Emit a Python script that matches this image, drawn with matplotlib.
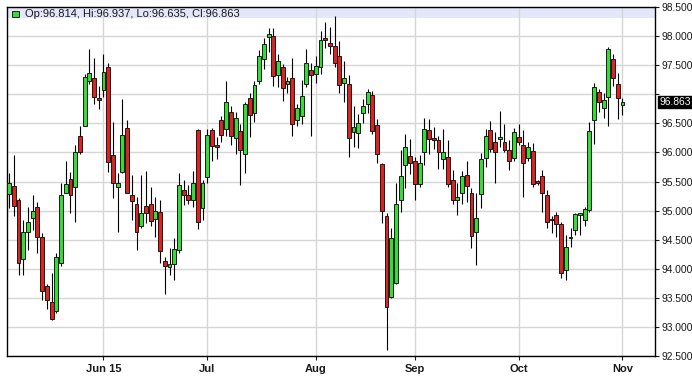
import matplotlib.pyplot as plt
from matplotlib.patches import Rectangle
import numpy as np
import pandas as pd

plt.rcParams['font.family'] = ['Liberation Sans', 'DejaVu Sans']

# daily candles, US dollar index, 4 May - 2 Nov 2015
dates = pd.bdate_range('2015-05-04', '2015-11-02')
opens = [95.28, 95.43, 95.18, 94.17, 94.63, 94.87, 95.07, 94.55, 93.70, 93.42,
         93.28, 94.10, 95.31, 95.55, 95.40, 96.29, 96.46, 97.22, 97.28, 96.94,
         97.07, 97.47, 95.96, 95.40, 95.67, 96.42, 95.27, 95.11, 94.73, 95.08,
         95.12, 94.86, 94.98, 94.14, 94.03, 94.08, 94.32, 95.35, 95.26, 95.19,
         96.38, 95.05, 95.57, 96.39, 96.12, 96.56, 96.41, 96.70, 96.25, 96.37,
         95.98, 96.93, 96.67, 97.23, 97.60, 97.98, 98.00, 97.33, 97.47, 97.17,
         97.28, 96.56, 96.62, 97.17, 97.41, 97.35, 97.47, 97.97, 97.88, 97.83,
         97.66, 97.20, 97.17, 96.35, 96.34, 96.68, 96.83, 96.99, 96.47, 95.80,
         94.90, 93.52, 93.76, 95.18, 95.78, 95.94, 95.86, 95.45, 96.00, 96.38,
         96.25, 96.21, 95.88, 95.92, 95.52, 95.18, 95.31, 95.62, 95.31, 94.63,
         95.28, 95.91, 96.38, 96.18, 96.23, 96.18, 96.04, 95.91, 96.27, 96.12,
         95.90, 96.02, 95.49, 95.59, 95.27, 94.85, 94.92, 94.77, 93.97, 94.53,
         94.67, 94.93, 94.84, 95.01, 96.55, 97.04, 96.76, 96.96, 97.60, 97.17,
         96.814]
highs = [95.64, 95.95, 95.21, 94.84, 95.07, 95.27, 95.15, 94.61, 93.73, 93.93,
         94.27, 95.47, 95.85, 95.67, 96.12, 96.46, 97.35, 97.77, 97.63, 97.15,
         97.69, 97.53, 96.52, 95.64, 96.92, 96.55, 95.61, 95.24, 95.61, 95.68,
         95.41, 95.24, 95.18, 94.21, 94.36, 94.53, 95.64, 95.52, 95.44, 95.68,
         96.40, 95.52, 96.41, 96.42, 96.26, 96.63, 97.23, 96.80, 96.69, 96.49,
         96.86, 97.03, 97.23, 97.76, 97.97, 98.14, 98.14, 97.69, 97.52, 97.29,
         97.63, 96.83, 97.24, 97.77, 97.54, 97.66, 98.09, 98.24, 98.15, 98.34,
         97.91, 97.58, 97.33, 96.80, 96.66, 96.92, 97.09, 97.06, 96.58, 95.81,
         94.95, 94.70, 95.47, 96.04, 96.32, 96.23, 95.92, 95.96, 96.60, 96.58,
         96.43, 96.29, 96.41, 96.21, 95.69, 95.47, 95.68, 95.85, 95.38, 95.30,
         95.99, 96.41, 96.54, 96.35, 96.71, 96.49, 96.21, 96.42, 96.49, 96.38,
         96.18, 96.17, 95.53, 95.69, 95.35, 94.90, 94.98, 94.81, 94.58, 94.70,
         94.95, 94.96, 95.07, 96.52, 97.20, 97.09, 97.03, 97.81, 97.69, 97.36,
         96.937]
lows = [95.04, 94.90, 93.90, 93.90, 94.33, 94.67, 94.27, 93.47, 93.30, 93.12,
        93.24, 94.04, 95.30, 94.95, 94.81, 95.98, 96.45, 97.17, 96.84, 96.75,
        96.95, 95.67, 95.21, 94.64, 95.64, 95.30, 94.84, 94.33, 94.70, 94.78,
        94.73, 94.55, 94.10, 93.56, 93.90, 93.81, 94.27, 95.10, 95.12, 95.07,
        94.68, 94.84, 95.47, 95.86, 95.89, 96.18, 96.29, 96.12, 95.98, 95.44,
        95.64, 96.26, 96.52, 97.17, 97.43, 97.72, 97.15, 97.12, 96.89, 97.03,
        96.29, 96.46, 96.49, 97.12, 96.29, 97.20, 97.35, 97.80, 97.69, 97.46,
        97.03, 96.86, 95.92, 96.10, 96.08, 96.50, 96.67, 96.32, 95.81, 94.79,
        92.60, 93.50, 93.73, 94.98, 95.38, 95.63, 95.18, 95.41, 95.78, 95.98,
        96.06, 95.72, 95.72, 95.41, 95.12, 94.92, 95.12, 95.15, 94.36, 94.06,
        95.04, 95.75, 96.01, 95.47, 96.10, 96.01, 95.69, 95.86, 96.12, 95.23,
        95.86, 95.41, 95.44, 94.98, 94.70, 94.61, 94.55, 93.84, 93.81, 94.37,
        94.58, 94.58, 94.73, 94.98, 96.15, 96.69, 96.59, 96.46, 97.15, 96.58,
        96.635]
closes = [95.48, 95.08, 94.10, 94.64, 94.81, 95.00, 94.54, 93.62, 93.47, 93.14,
          94.21, 95.26, 95.45, 95.26, 96.01, 96.01, 97.29, 97.36, 96.95, 96.90,
          97.38, 95.84, 95.47, 95.47, 96.30, 95.30, 95.17, 94.64, 94.96, 94.96,
          94.82, 95.00, 94.31, 94.04, 94.08, 94.34, 95.44, 95.26, 95.19, 95.47,
          94.80, 95.48, 96.30, 96.11, 96.10, 96.30, 96.87, 96.29, 96.60, 96.04,
          96.84, 96.65, 97.16, 97.66, 97.86, 98.03, 97.32, 97.58, 97.11, 97.23,
          96.49, 96.76, 96.97, 97.54, 97.33, 97.48, 97.93, 97.94, 97.83, 97.54,
          97.16, 97.28, 96.25, 96.43, 96.51, 96.80, 97.04, 96.36, 95.98, 95.00,
          93.35, 94.53, 95.11, 95.60, 96.10, 95.82, 95.45, 95.82, 96.41, 96.23,
          96.22, 96.00, 96.01, 95.45, 95.19, 95.24, 95.60, 95.42, 94.57, 94.87,
          95.89, 96.28, 96.06, 96.00, 96.27, 96.04, 95.86, 96.35, 96.18, 95.82,
          96.09, 95.45, 95.48, 95.31, 94.81, 94.83, 94.77, 93.93, 94.37, 94.54,
          94.94, 94.94, 95.03, 96.37, 97.12, 96.86, 96.90, 97.77, 97.28, 96.94,
          96.863]

month_dates = ['2015-06-01', '2015-07-01', '2015-08-03', '2015-09-01', '2015-10-01', '2015-11-02']
month_labels = ['Jun 15', 'Jul', 'Aug', 'Sep', 'Oct', 'Nov']
price_ticks = [92.5, 93.0, 93.5, 94.0, 94.5, 95.0, 95.5, 96.0, 96.5, 97.0, 97.5, 98.0, 98.5]

o = np.array(opens)
h = np.array(highs)
l = np.array(lows)
c = np.array(closes)
x = np.arange(len(dates))

up_col = '#33dd33'
down_col = '#dd2222'
colors = [up_col if cc >= oo else down_col for oo, cc in zip(o, c)]

fig = plt.figure(figsize=(6.92, 3.76), dpi=100)
ax = fig.add_axes([7 / 692, 20 / 376, 648 / 692, 349 / 376])

ax.set_xlim(-0.45, 136.9)
ax.set_ylim(92.5, 98.5)

# header band
ax.add_patch(Rectangle((0, 1 - 11 / 349), 1, 11 / 349, transform=ax.transAxes,
                       facecolor='#e4e6f9', edgecolor='none', zorder=0.5))
ax.add_patch(Rectangle((0.0083, 1 - 10.4 / 349), 6.6 / 648, 6.7 / 349, transform=ax.transAxes,
                       facecolor=up_col, edgecolor='#222222', lw=0.7, zorder=5))
ax.text(0.0273, 1 - 6.7 / 349,
        f'Op:{opens[-1]:.3f}, Hi:{highs[-1]:.3f}, Lo:{lows[-1]:.3f}, Cl:{closes[-1]:.3f}',
        transform=ax.transAxes, va='center', ha='left', fontsize=8, color='#1a1a1a', zorder=5)

# candles
ax.vlines(x, l, h, color='black', lw=0.8, zorder=2)
body = np.maximum(np.abs(c - o), 0.02)
ax.bar(x, body, bottom=np.minimum(o, c), width=0.82, color=colors,
       edgecolor='#1a1a1a', linewidth=0.7, zorder=3)

# axes styling
ax.set_axisbelow(True)
ax.grid(True, color='#d6d6d6', lw=1)
for s in ax.spines.values():
    s.set_color('black')
    s.set_linewidth(1)

ax.yaxis.tick_right()
ax.set_yticks(price_ticks)
ax.set_yticklabels(['' if abs(v - closes[-1]) < 0.15 else f'{v:.3f}' for v in price_ticks])
ax.tick_params(axis='y', length=3, pad=1.5, labelsize=7.4, colors='#1a1a1a')

tick_pos = [dates.get_loc(pd.Timestamp(d)) for d in month_dates]
ax.set_xticks(tick_pos)
ax.set_xticklabels(month_labels, fontweight='bold')
ax.tick_params(axis='x', length=3, pad=3, labelsize=8, colors='#1a1a1a')

# last price marker
ax.text(1.007, closes[-1], f'{closes[-1]:.3f}',
        transform=ax.get_yaxis_transform(), va='center', ha='left', fontsize=7.4,
        color='white', bbox=dict(facecolor='black', edgecolor='black', pad=0.8))

fig.savefig('out.png', dpi=100)
